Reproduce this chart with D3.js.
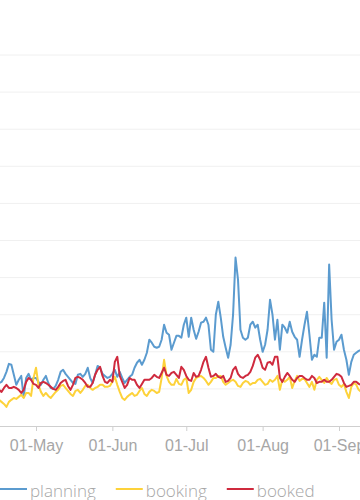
<!DOCTYPE html>
<html>
  <head>
    <meta charset="utf-8">
    <script src="https://d3js.org/d3.v7.min.js"></script>
    <style>
      body { margin: 0; background: #fff; }
      svg { display: block; font-family: "Open Sans", sans-serif; font-weight: 300; }
      .grid line { stroke: #f0f0f0; }
      .x-axis path, .x-axis line { stroke: #cfcfcf; }
      .x-axis text { fill: #a6a6a6; font-size: 16px; }
      .legend text { fill: #a6a6a6; font-size: 17px; }
    </style>
  </head>
  <body>
    <script>

    var width = 360;
    var height = 500;

    // daily series, first day 15 Apr
    var startDay = new Date(2015, 3, 15);
    var seriesNames = ["planning", "booking", "booked"];
    var seriesColors = ["#5b9bcf", "#fdd23a", "#cf2a3e"];

    var planning = [23.8, 23.2, 23.8, 25.9, 29.2, 33.5, 33.0, 27.6, 22.2, 24.9,
      27.0, 15.7, 25.9, 28.1, 24.9, 25.9, 25.9, 23.8, 22.2, 24.9,
      27.0, 23.2, 20.5, 20.0, 21.6, 24.9, 29.2, 30.3, 28.1, 26.5,
      24.9, 23.2, 22.7, 27.6, 28.1, 26.5, 28.1, 31.4, 25.9, 23.2,
      27.6, 32.4, 31.4, 28.1, 27.0, 25.9, 26.5, 28.1, 30.3, 26.5,
      29.2, 25.9, 23.2, 24.9, 26.5, 27.6, 31.4, 34.1, 35.7, 33.0,
      35.7, 39.5, 46.5, 44.9, 42.7, 42.2, 42.7, 46.5, 54.6, 50.3,
      49.2, 41.1, 44.9, 48.6, 48.6, 47.6, 54.6, 58.4, 48.1, 58.4,
      51.9, 47.0, 50.8, 55.7, 56.2, 58.4, 54.6, 41.1, 40.0, 60.0,
      67.0, 58.4, 48.1, 42.2, 36.8, 43.8, 60.0, 90.8, 78.9, 51.9,
      47.6, 46.5, 47.6, 54.6, 56.2, 53.0, 54.6, 46.5, 40.0, 43.8,
      51.9, 68.1, 60.0, 46.5, 57.3, 41.1, 54.6, 53.0, 50.3, 56.2,
      50.8, 48.1, 46.5, 37.3, 46.5, 54.6, 61.6, 49.2, 35.7, 38.4,
      37.3, 47.6, 47.6, 66.5, 36.8, 87.0, 57.3, 41.1, 45.4, 46.5,
      49.2, 41.1, 35.7, 27.6, 34.6, 38.4, 39.5, 40.5, 41.1];

    var booking = [15.1, 14.1, 13.0, 11.9, 10.3, 13.0, 14.1, 15.1, 14.6, 15.7,
      16.8, 15.1, 17.8, 17.8, 16.2, 25.9, 31.4, 22.2, 18.4, 16.2,
      17.8, 16.2, 15.1, 16.8, 18.4, 19.5, 21.6, 22.2, 20.5, 18.9,
      17.3, 16.2, 18.9, 19.5, 17.8, 19.5, 21.6, 22.2, 20.5, 19.5,
      20.5, 21.1, 22.2, 22.2, 21.1, 21.1, 21.6, 23.8, 26.5, 22.2,
      18.4, 15.1, 14.1, 15.7, 16.8, 17.8, 16.2, 16.8, 18.9, 20.5,
      17.3, 16.2, 18.4, 19.5, 18.9, 17.8, 18.4, 25.9, 35.7, 27.0,
      23.8, 22.2, 22.2, 25.4, 22.7, 22.2, 24.9, 25.9, 17.8, 19.5,
      23.8, 25.9, 26.5, 27.0, 25.9, 24.3, 22.2, 23.8, 25.9, 25.9,
      27.0, 27.0, 23.8, 22.2, 23.2, 24.3, 24.9, 23.8, 21.6, 21.1,
      23.2, 24.3, 23.8, 22.2, 23.2, 23.2, 24.9, 25.4, 23.8, 22.2,
      22.7, 24.9, 23.8, 24.9, 27.0, 19.5, 24.9, 23.8, 24.9, 26.5,
      20.5, 24.3, 27.0, 24.3, 25.4, 25.4, 23.2, 21.1, 23.8, 19.5,
      24.9, 26.5, 24.9, 23.2, 25.9, 23.8, 22.7, 24.9, 25.4, 22.2,
      21.1, 22.7, 18.4, 15.1, 21.1, 23.2, 22.2, 19.5, 18.4];

    var booked = [20.5, 19.5, 18.4, 20.5, 22.2, 20.5, 20.5, 21.1, 20.5, 19.5,
      17.8, 19.5, 23.8, 25.9, 24.9, 22.7, 22.2, 20.5, 23.2, 23.8,
      23.2, 22.2, 21.1, 20.0, 19.5, 21.1, 23.2, 24.3, 24.9, 21.6,
      19.5, 22.2, 25.9, 26.5, 25.9, 24.9, 23.2, 21.1, 21.1, 23.2,
      27.6, 30.3, 31.9, 27.0, 23.8, 23.2, 24.9, 23.8, 34.6, 37.3,
      27.0, 23.8, 20.5, 22.2, 25.9, 24.9, 24.9, 22.2, 20.5, 22.7,
      24.9, 24.9, 24.9, 25.9, 27.6, 26.5, 25.9, 28.6, 31.4, 27.6,
      27.0, 28.6, 29.2, 27.6, 25.9, 31.9, 30.3, 27.0, 24.9, 24.3,
      28.6, 26.5, 27.0, 30.3, 34.6, 37.3, 31.4, 26.5, 27.0, 28.1,
      26.5, 25.9, 27.0, 23.8, 24.3, 25.9, 30.3, 31.9, 28.1, 26.5,
      25.9, 27.0, 27.6, 29.2, 32.4, 36.8, 38.4, 35.7, 31.4, 30.3,
      34.1, 34.6, 33.0, 37.3, 37.3, 25.9, 23.8, 26.5, 28.6, 27.0,
      24.9, 23.8, 25.9, 27.0, 27.0, 25.9, 24.9, 24.9, 27.0, 25.9,
      23.2, 23.8, 23.8, 24.9, 23.8, 23.8, 24.9, 26.5, 28.1, 27.6,
      26.5, 23.2, 21.1, 21.6, 22.2, 23.8, 23.8, 22.7, 22.2];

    var yTicks = [0, 20, 40, 60, 80, 100, 120, 140, 160, 180, 200];

    var dates = planning.map(function (d, i) { return d3.timeDay.offset(startDay, i); });
    var allSeries = [planning, booking, booked];

    var svg = d3.select("body")
      .append("svg")
      .attr("width", width)
      .attr("height", height);

    // the plot is wider than the window, only May..early Sep is in view
    var x = d3.scaleTime()
      .domain([new Date(2015, 4, 1), new Date(2015, 8, 1)])
      .range([36, 339]);

    var y = d3.scaleLinear()
      .domain([0, 200])
      .range([426, 55]);

    // horizontal grid
    svg.append("g")
      .attr("class", "grid")
      .selectAll("line")
      .data(yTicks.slice(1))
      .enter()
      .append("line")
      .attr("x1", 0)
      .attr("x2", width)
      .attr("y1", function (d) { return y(d); })
      .attr("y2", function (d) { return y(d); });

    // lines
    var line = d3.line()
      .x(function (d, i) { return x(dates[i]); })
      .y(function (d) { return y(d); });

    svg.append("g")
      .selectAll("path")
      .data(allSeries)
      .enter()
      .append("path")
      .attr("fill", "none")
      .attr("stroke", function (d, i) { return seriesColors[i]; })
      .attr("stroke-width", 2)
      .attr("stroke-linejoin", "round")
      .attr("d", line);

    // x axis
    var xAxis = d3.axisBottom(x)
      .tickValues(d3.timeMonth.range(new Date(2015, 4, 1), new Date(2015, 8, 2)))
      .tickFormat(d3.timeFormat("%d-%b"))
      .tickSize(5)
      .tickSizeOuter(0)
      .tickPadding(9);

    var gx = svg.append("g")
      .attr("class", "x-axis")
      .attr("transform", "translate(0," + y(0) + ")")
      .call(xAxis);
    gx.select(".domain").attr("d", "M0,0.5H" + width);
    gx.selectAll("text").attr("font-family", null).attr("font-size", null);

    // legend
    var legend = svg.append("g").attr("class", "legend");
    var lx = 0;
    seriesNames.forEach(function (name, i) {
      legend.append("line")
        .attr("x1", lx).attr("x2", lx + 27)
        .attr("y1", 489).attr("y2", 489)
        .attr("stroke", seriesColors[i])
        .attr("stroke-width", 2);
      var t = legend.append("text")
        .attr("x", lx + 30)
        .attr("y", 497)
        .text(name);
      lx = lx + 30 + t.node().getComputedTextLength() + 20;
    });

    </script>
  </body>
</html>
